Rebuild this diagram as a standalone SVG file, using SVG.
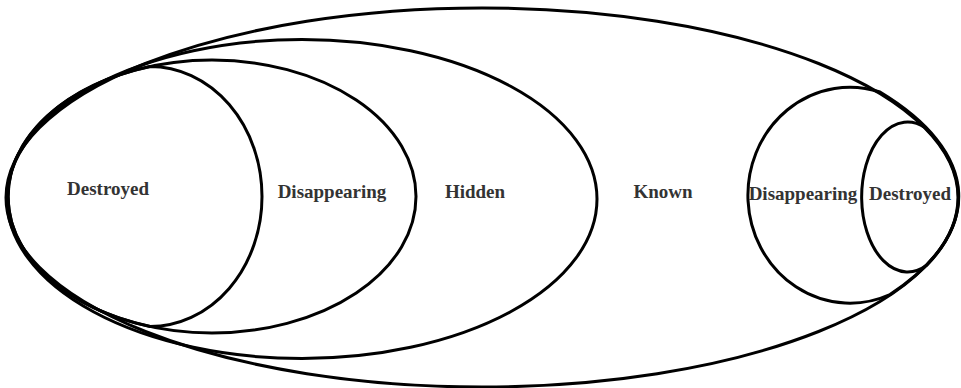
<svg xmlns="http://www.w3.org/2000/svg" width="961" height="388" viewBox="0 0 961 388">
<style>
.s{fill:none;stroke:#000;stroke-width:3}
.t{font-family:"Liberation Serif","Times New Roman","DejaVu Serif",serif;font-weight:bold;font-size:19px;fill:#333;text-anchor:middle}
</style>
<rect width="961" height="388" fill="#fff"/>
<g id="known">
<ellipse class="s" cx="482" cy="197.5" rx="476" ry="189.5"/>
<text class="t" x="663" y="198">Known</text>
</g>
<g id="hidden">
<ellipse class="s" cx="302" cy="199" rx="295" ry="159.5"/>
<text class="t" x="475" y="198">Hidden</text>
</g>
<g id="disappearing-left">
<ellipse class="s" cx="212" cy="196.5" rx="204" ry="136.5"/>
<text class="t" x="332" y="198">Disappearing</text>
</g>
<g id="destroyed-left">
<path class="s" d="M150,66.5 A112,130 0 0 1 150,326.5 A204,136.5 0 0 1 150,66.5 Z"/>
<text class="t" x="108" y="195">Destroyed</text>
</g>
<g id="disappearing-right">
<path class="s" d="M880,92 A102,108 0 1 0 890,294.5 A476,189.5 0 0 0 880,92 Z"/>
<text class="t" x="803" y="200">Disappearing</text>
</g>
<g id="destroyed-right">
<path class="s" d="M925,127.5 A46,75 0 1 0 927,265 A476,189.5 0 0 0 925,127.5 Z"/>
<text class="t" x="910" y="200">Destroyed</text>
</g>
<g id="connectors"/>
</svg>
